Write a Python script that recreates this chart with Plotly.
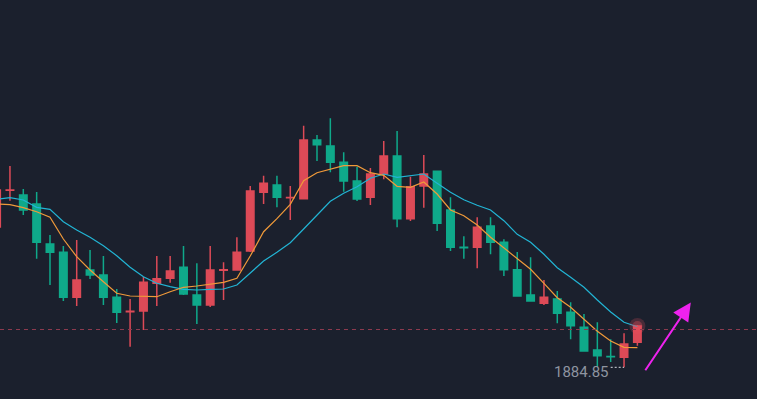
import plotly.graph_objects as go

# ---- data ----
idx = list(range(49))
opens = [1926.94, 1937.95, 1936.54, 1933.84, 1921.84, 1919.35, 1905.85, 1914.04, 1912.54, 1905.85,
         1901.53, 1901.74, 1910.05, 1911.55, 1914.85, 1906.54, 1903.54, 1914.00, 1914.04, 1919.74,
         1937.35, 1939.54, 1935.70, 1935.43, 1953.04, 1951.24, 1946.35, 1940.74, 1935.85, 1942.84,
         1948.24, 1929.43, 1939.24, 1943.65, 1932.04, 1920.83, 1920.85, 1927.24, 1922.35, 1914.13,
         1906.54, 1904.05, 1905.34, 1901.35, 1896.85, 1890.04, 1888.07, 1887.85, 1892.35]
highs = [1938.34, 1945.24, 1938.34, 1937.44, 1924.54, 1921.24, 1923.04, 1920.04, 1918.24, 1908.34,
         1905.34, 1911.94, 1918.24, 1918.24, 1921.24, 1916.05, 1921.24, 1916.35, 1923.85, 1939.24,
         1942.33, 1942.33, 1939.24, 1957.33, 1954.54, 1959.55, 1949.35, 1945.03, 1944.64, 1952.74,
         1955.74, 1942.03, 1948.54, 1943.74, 1935.85, 1924.15, 1929.85, 1929.85, 1923.25, 1919.44,
         1917.85, 1911.04, 1907.74, 1904.35, 1900.84, 1898.35, 1893.25, 1895.05, 1897.54]
lows = [1926.64, 1934.83, 1930.54, 1917.43, 1909.54, 1904.74, 1903.24, 1911.34, 1903.54, 1898.14,
        1891.03, 1896.04, 1903.24, 1910.23, 1906.54, 1897.84, 1902.94, 1905.04, 1913.83, 1919.44,
        1933.84, 1932.85, 1929.04, 1935.33, 1946.74, 1943.35, 1937.53, 1934.74, 1933.54, 1941.25,
        1926.85, 1928.74, 1932.73, 1925.74, 1919.74, 1917.43, 1914.55, 1918.75, 1912.24, 1906.14,
        1904.64, 1903.54, 1898.05, 1893.25, 1889.64, 1885.03, 1886.44, 1884.85, 1891.33]
closes = [1938.04, 1938.05, 1932.04, 1922.35, 1919.35, 1905.85, 1911.04, 1912.54, 1905.85, 1901.35,
          1901.63, 1910.35, 1911.43, 1913.74, 1906.84, 1903.54, 1914.04, 1914.08, 1919.35, 1937.74,
          1940.05, 1935.85, 1935.78, 1953.04, 1951.63, 1946.35, 1940.74, 1935.34, 1942.84, 1948.24,
          1929.43, 1939.03, 1942.84, 1928.05, 1920.88, 1920.75, 1926.85, 1922.35, 1914.13, 1906.24,
          1904.74, 1905.85, 1901.05, 1897.33, 1889.74, 1888.33, 1887.99, 1891.84, 1897.24]
ma5 = [1933.84, 1933.63, 1932.73, 1931.53, 1929.85, 1923.34, 1918.03, 1914.04, 1910.53, 1907.05,
       1906.24, 1906.03, 1906.03, 1907.53, 1908.85, 1909.24, 1909.84, 1910.35, 1911.55, 1918.24,
       1925.53, 1929.43, 1933.75, 1940.83, 1943.23, 1944.25, 1945.33, 1945.33, 1943.23, 1942.45,
       1939.15, 1938.85, 1940.44, 1936.84, 1932.04, 1930.30, 1927.54, 1923.85, 1920.73, 1917.55,
       1914.25, 1910.05, 1905.73, 1902.85, 1899.25, 1895.65, 1892.74, 1890.85, 1890.73]
ma10 = [1935.25, 1935.73, 1935.04, 1932.85, 1932.25, 1928.53, 1926.04, 1923.85, 1921.33, 1918.33,
        1914.85, 1912.03, 1910.05, 1909.03, 1908.25, 1908.04, 1908.25, 1908.34, 1909.54, 1913.23,
        1916.74, 1919.35, 1922.23, 1926.34, 1930.63, 1934.65, 1937.05, 1939.03, 1941.55, 1942.84,
        1941.85, 1942.24, 1942.84, 1940.05, 1937.35, 1935.13, 1933.45, 1932.04, 1928.83, 1924.75,
        1922.35, 1918.75, 1914.73, 1911.85, 1908.85, 1905.04, 1901.44, 1898.35, 1897.03]
ref_level = 1896.19

BG = "#1b202d"
RED = "#dd4a57"
GREEN = "#0fa98a"

fig = go.Figure()
fig.add_trace(go.Candlestick(
    x=idx, open=opens, high=highs, low=lows, close=closes,
    increasing=dict(line=dict(color=RED, width=1.5), fillcolor=RED),
    decreasing=dict(line=dict(color=GREEN, width=1.5), fillcolor=GREEN),
    showlegend=False, hoverinfo="skip"))

fig.add_trace(go.Scatter(x=idx, y=ma10, mode="lines",
                         line=dict(color="#22b4d4", width=1.2), showlegend=False, hoverinfo="skip"))
fig.add_trace(go.Scatter(x=idx, y=ma5, mode="lines",
                         line=dict(color="#f09a3a", width=1.2), showlegend=False, hoverinfo="skip"))

# glow on the latest candle
last = idx[-1]
fig.add_trace(go.Scatter(x=[last], y=[closes[-1]], mode="markers",
                         marker=dict(size=16, color="rgba(235,80,95,0.22)", line=dict(width=0)),
                         showlegend=False, hoverinfo="skip"))
fig.add_trace(go.Scatter(x=[last], y=[closes[-1]], mode="markers",
                         marker=dict(size=10, color="rgba(235,80,95,0.35)", line=dict(width=0)),
                         showlegend=False, hoverinfo="skip"))

# reference dashed level
fig.add_shape(type="line", xref="paper", x0=0, x1=1, y0=ref_level, y1=ref_level,
              line=dict(color="#8c3a4e", width=1, dash="4px,4px"))

# lowest low marker
low_i = lows.index(min(lows))
fig.add_shape(type="line", x0=low_i - 1.0, x1=low_i, y0=lows[low_i], y1=lows[low_i],
              line=dict(color="#d8dbe2", width=1, dash="2px,2px"))
fig.add_annotation(x=low_i - 1.0, y=lows[low_i], text=f"{lows[low_i]:.2f}",
                   showarrow=False, xanchor="right", yanchor="middle",
                   xshift=0, yshift=-5,
                   font=dict(family="Roboto", size=15, color="#8e94a0"))

# magenta arrow
fig.add_annotation(x=last + 4.0, y=1904.3, ax=last + 0.52, ay=1883.53,
                   xref="x", yref="y", axref="x", ayref="y", text="",
                   showarrow=True, arrowhead=2, arrowsize=1.8, arrowwidth=2,
                   arrowcolor="#ee22ee")

fig.update_layout(
    width=757, height=399,
    margin=dict(l=0, r=0, t=0, b=0),
    paper_bgcolor=BG, plot_bgcolor=BG,
    boxgap=0.2,
    xaxis=dict(range=[0.2547, 56.96], visible=False, showgrid=False,
               rangeslider=dict(visible=False), fixedrange=True),
    yaxis=dict(range=[1875.34, 1995.04], visible=False, showgrid=False, fixedrange=True),
)

fig.write_html("out.html", config=dict(displayModeBar=False),
               post_script="document.body.style.margin='0';document.body.style.background='#1b202d';")
